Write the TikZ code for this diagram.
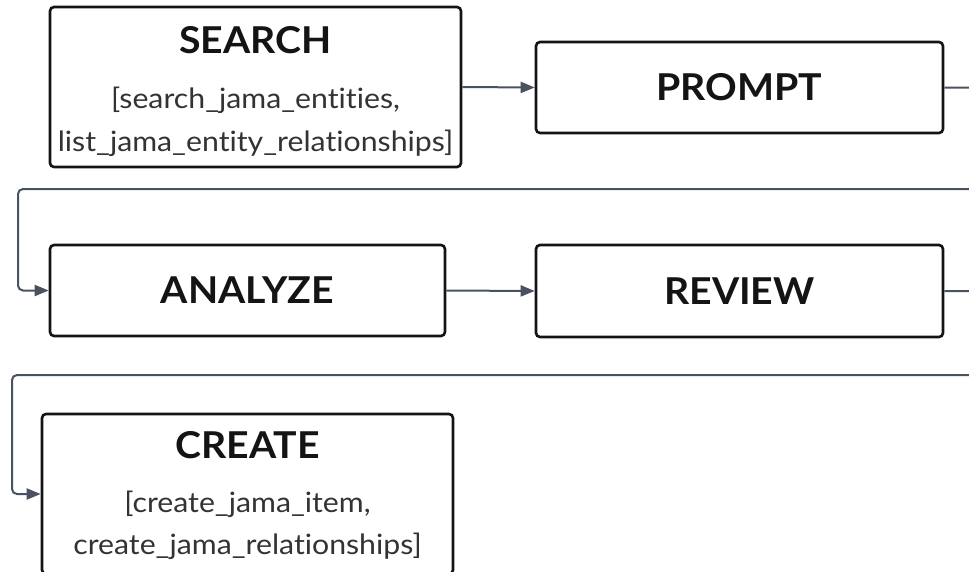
\documentclass[tikz,border=0pt]{standalone}
\usepackage{fontspec}
\setmainfont{Lato}[Ligatures={NoCommon,NoContextual}]
\newfontfamily\headfont{Lato}[Ligatures={NoCommon,NoContextual},FakeStretch=1.06]
\newfontfamily\toolfont{Lato}[Ligatures={NoCommon,NoContextual},FakeStretch=1.08]
\usetikzlibrary{arrows.meta,calc}
\definecolor{boxline}{HTML}{141414}
\definecolor{wire}{HTML}{4A5260}
\definecolor{subtext}{HTML}{333333}
\tikzset{
  stepbox/.style={draw=boxline, line width=2.6pt, rounded corners=4pt,
    fill=white, inner sep=0pt},
  title/.style={anchor=base, inner sep=0pt, text=boxline,
    font=\headfont\fontsize{37}{37}\selectfont\bfseries},
  tools/.style={anchor=base, inner sep=0pt, text=subtext,
    font=\toolfont\fontsize{28}{28}\selectfont},
  flow/.style={draw=wire, line width=2pt, rounded corners=5pt,
    -{Triangle[length=14pt,width=11pt]}},
}
\begin{document}
\begin{tikzpicture}[x=1pt,y=-1pt]
\useasboundingbox (0,0) rectangle (969,571);
\clip (0,0) rectangle (969,571);

% process steps
\node[stepbox, minimum width=411pt, minimum height=160pt] (search) at (255.5,87) {};
\node[stepbox, minimum width=407pt, minimum height=91pt]  (prompt) at (739.5,87.5) {};
\node[stepbox, minimum width=395pt, minimum height=91pt]  (analyze) at (247.5,290.5) {};
\node[stepbox, minimum width=407pt, minimum height=92pt]  (review) at (739.5,291) {};
\node[stepbox, minimum width=411pt, minimum height=160pt] (create) at (247.5,494) {};

% labels
\node[title] (searchT) at ($(search.north)+(0,48)$) {SEARCH};
\node[tools] (searchA) at ($(search.north)+(0,103)$) {[search\_jama\_entities,};
\node[tools] (searchB) at ($(search.north)+(0,146)$) {list\_jama\_entity\_relationships]};
\node[title] (promptT) at ($(prompt.center)+(0,13)$) {PROMPT};
\node[title] (analyzeT) at ($(analyze.center)+(0,13)$) {ANALYZE};
\node[title] (reviewT) at ($(review.center)+(0,13)$) {REVIEW};
\node[title] (createT) at ($(create.north)+(0,46)$) {CREATE};
\node[tools] (createA) at ($(create.north)+(0,100)$) {[create\_jama\_item,};
\node[tools] (createB) at ($(create.north)+(0,142)$) {create\_jama\_relationships]};

% turn points of the wrap-around connectors
\coordinate (r1) at (990,87.5);
\coordinate (r2) at (990,375);

% connectors
\draw[flow] (search.east) -- (prompt.west);
\draw[flow] (prompt.east) -- (r1) |- (18,189) |- (analyze.west);
\draw[flow] (analyze.east) -- (review.west);
\draw[flow] (review.east) -- (r2 |- review.east) -- (r2) -- (12,375) |- (create.west);
\end{tikzpicture}
\end{document}
